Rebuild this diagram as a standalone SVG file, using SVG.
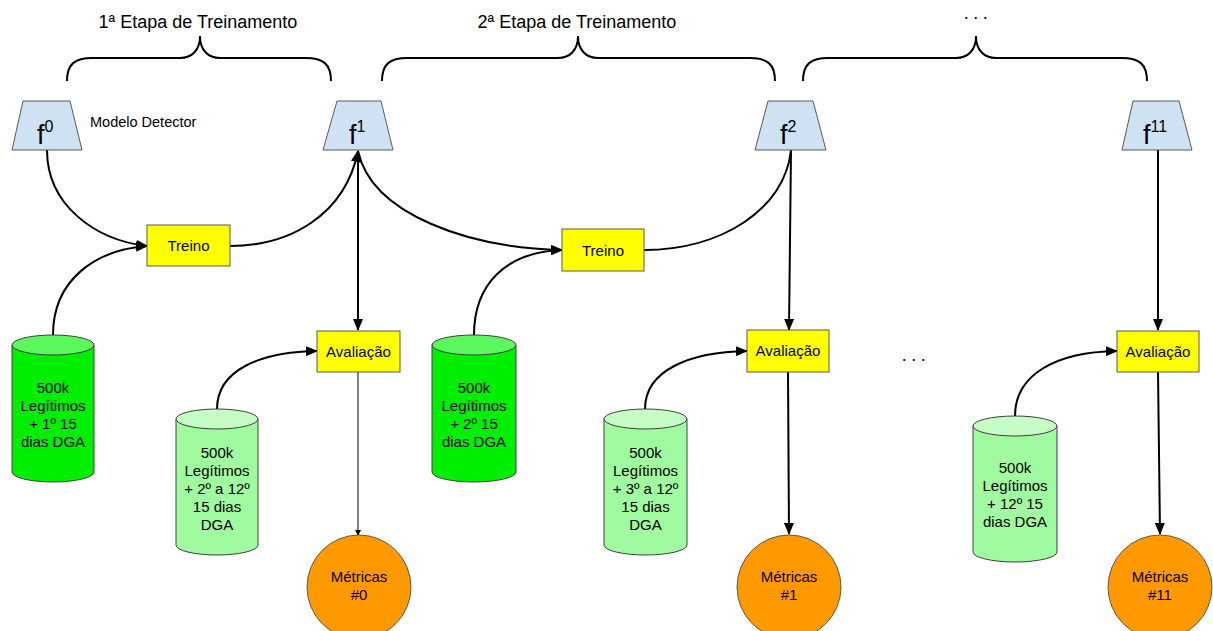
<svg xmlns="http://www.w3.org/2000/svg" width="1213" height="631" viewBox="0 0 1213 631">
  <defs>
    <marker id="arrow" viewBox="0 0 12 10" refX="11" refY="5" markerWidth="12" markerHeight="10" markerUnits="userSpaceOnUse" orient="auto">
      <path d="M0,0 L12,5 L0,10 Z" fill="#000"/>
    </marker>
    <marker id="arrowSmall" viewBox="0 0 6 6" refX="5" refY="3" markerWidth="6" markerHeight="6" markerUnits="userSpaceOnUse" orient="auto">
      <path d="M0,0 L6,3 L0,6 Z" fill="#000"/>
    </marker>
  </defs>
  <style>
    text { font-family: "Liberation Sans", Arial, sans-serif; fill: #000; }
    .title { font-size: 18px; text-anchor: middle; }
    .dots { font-size: 18px; text-anchor: middle; letter-spacing: 4.5px; }
    .lbl { font-size: 15px; text-anchor: middle; }
    .model { fill: #cfe2f3; stroke: #595959; stroke-width: 1; }
    .fsym { font-size: 27px; }
    .fsup { font-size: 16px; }
    .box { fill: #ffff00; stroke: #595959; stroke-width: 1; }
    .dk-body { fill: #00ee00; stroke: #404040; stroke-width: 1; }
    .dk-top { fill: #5cf75c; stroke: #404040; stroke-width: 1; }
    .lt-body { fill: #a0faa0; stroke: #404040; stroke-width: 1; }
    .lt-top { fill: #c6fcc6; stroke: #404040; stroke-width: 1; }
    .metric { fill: #ff9900; stroke: #595959; stroke-width: 1; }
    .brace { fill: none; stroke: #000; stroke-width: 2; }
    .edge { fill: none; stroke: #000; stroke-width: 2; marker-end: url(#arrow); }
    .plain { fill: none; stroke: #000; stroke-width: 2; }
    .thin { fill: none; stroke: #000; stroke-width: 1; marker-end: url(#arrowSmall); }
  </style>

  <!-- stage braces and titles -->
  <g id="stage1">
    <path class="brace" d="M67,81 C67,64 75,58 92,58 L180,58 C192,58 200,50 200,36 C200,50 208,58 220,58 L306,58 C323,58 331,64 331,81"/>
    <text class="title" x="198" y="28">1ª Etapa de Treinamento</text>
  </g>
  <g id="stage2">
    <path class="brace" d="M382,81 C382,64 390,58 407,58 L558,58 C570,58 578,50 578,36 C578,50 586,58 598,58 L750,58 C767,58 775,64 775,81"/>
    <text class="title" x="577" y="28">2ª Etapa de Treinamento</text>
  </g>
  <g id="stage-more">
    <path class="brace" d="M803,81 C803,64 811,58 828,58 L956,58 C968,58 976,50 976,36 C976,50 984,58 996,58 L1122,58 C1139,58 1147,64 1147,81"/>
    <text class="dots" x="978" y="19">...</text>
  </g>

  <!-- connectors -->
  <g id="connectors">
    <path class="edge" d="M47,150 C47,205 95,240 147,246"/>
    <path class="edge" d="M53,335 C53,280 95,250 147,246"/>
    <path class="edge" d="M230,246 C290,246 345,215 358,151"/>
    <path class="edge" d="M358,151 C372,215 470,248 562,250"/>
    <path class="edge" d="M358,151 L358,330"/>
    <path class="edge" d="M217,409 C217,370 260,352 317,351"/>
    <path class="thin" d="M358,372 L358,535"/>
    <path class="edge" d="M474,335 C474,285 505,252 562,250"/>
    <path class="plain" d="M644,250 C720,250 785,210 791,150"/>
    <path class="edge" d="M791,150 L789,330"/>
    <path class="edge" d="M645,409 C645,370 690,352 747,351"/>
    <path class="edge" d="M788,372 L789,534"/>
    <path class="edge" d="M1158,150 L1158,330"/>
    <path class="edge" d="M1015,416 C1015,375 1055,352 1117,351"/>
    <path class="edge" d="M1158,372 L1160,534"/>
  </g>

  <!-- models -->
  <g id="f0">
    <path class="model" d="M23,101 L70,101 L82,150 L12,150 Z"/>
    <text x="37" y="144"><tspan class="fsym">f</tspan><tspan class="fsup" dy="-12">0</tspan></text>
  </g>
  <text id="model-label" x="90" y="127" style="font-size:14.5px">Modelo Detector</text>
  <g id="f1">
    <path class="model" d="M337,101 L381,101 L393,150 L323,150 Z"/>
    <text x="349" y="144"><tspan class="fsym">f</tspan><tspan class="fsup" dy="-12">1</tspan></text>
  </g>
  <g id="f2">
    <path class="model" d="M768,101 L813,101 L826,150 L755,150 Z"/>
    <text x="780" y="144"><tspan class="fsym">f</tspan><tspan class="fsup" dy="-12">2</tspan></text>
  </g>
  <g id="f11">
    <path class="model" d="M1133,101 L1179,101 L1192,150 L1122,150 Z"/>
    <text x="1143" y="144"><tspan class="fsym">f</tspan><tspan class="fsup" dy="-12">11</tspan></text>
  </g>

  <!-- training steps -->
  <g id="treino1">
    <rect class="box" x="147" y="225" width="83" height="41"/>
    <text class="lbl" x="188.5" y="251">Treino</text>
  </g>
  <g id="treino2">
    <rect class="box" x="562" y="229" width="82" height="42"/>
    <text class="lbl" x="603" y="256">Treino</text>
  </g>

  <!-- evaluation steps -->
  <g id="avaliacao1">
    <rect class="box" x="317" y="331" width="83" height="41"/>
    <text class="lbl" x="358.5" y="357">Avaliação</text>
  </g>
  <g id="avaliacao2">
    <rect class="box" x="747" y="330" width="82" height="42"/>
    <text class="lbl" x="788" y="356">Avaliação</text>
  </g>
  <g id="avaliacao11">
    <rect class="box" x="1117" y="331" width="82" height="41"/>
    <text class="lbl" x="1158" y="357">Avaliação</text>
  </g>

  <!-- training datasets -->
  <g id="dados-treino1">
    <path class="dk-body" d="M12,345 L12,472 A41,10 0 0 0 94,472 L94,345 Z"/>
    <ellipse class="dk-top" cx="53" cy="345" rx="41" ry="10"/>
    <text class="lbl" x="53" y="393">500k</text>
    <text class="lbl" x="53" y="411">Legítimos</text>
    <text class="lbl" x="53" y="429">+ 1º 15</text>
    <text class="lbl" x="53" y="447">dias DGA</text>
  </g>
  <g id="dados-treino2">
    <path class="dk-body" d="M432,345 L432,472 A42,10 0 0 0 516,472 L516,345 Z"/>
    <ellipse class="dk-top" cx="474" cy="345" rx="42" ry="10"/>
    <text class="lbl" x="474" y="393">500k</text>
    <text class="lbl" x="474" y="411">Legítimos</text>
    <text class="lbl" x="474" y="429">+ 2º 15</text>
    <text class="lbl" x="474" y="447">dias DGA</text>
  </g>

  <!-- evaluation datasets -->
  <g id="dados-aval1">
    <path class="lt-body" d="M176,419 L176,545 A41,10 0 0 0 258,545 L258,419 Z"/>
    <ellipse class="lt-top" cx="217" cy="419" rx="41" ry="10"/>
    <text class="lbl" x="217" y="458">500k</text>
    <text class="lbl" x="217" y="476">Legítimos</text>
    <text class="lbl" x="217" y="494">+ 2º a 12º</text>
    <text class="lbl" x="217" y="512">15 dias</text>
    <text class="lbl" x="217" y="530">DGA</text>
  </g>
  <g id="dados-aval2">
    <path class="lt-body" d="M604,419 L604,545 A41.5,10 0 0 0 687,545 L687,419 Z"/>
    <ellipse class="lt-top" cx="645.5" cy="419" rx="41.5" ry="10"/>
    <text class="lbl" x="645.5" y="458">500k</text>
    <text class="lbl" x="645.5" y="476">Legítimos</text>
    <text class="lbl" x="645.5" y="494">+ 3º a 12º</text>
    <text class="lbl" x="645.5" y="512">15 dias</text>
    <text class="lbl" x="645.5" y="530">DGA</text>
  </g>
  <g id="dados-aval11">
    <path class="lt-body" d="M973,426 L973,552 A42,10 0 0 0 1057,552 L1057,426 Z"/>
    <ellipse class="lt-top" cx="1015" cy="426" rx="42" ry="10"/>
    <text class="lbl" x="1015" y="473">500k</text>
    <text class="lbl" x="1015" y="491">Legítimos</text>
    <text class="lbl" x="1015" y="509">+ 12º 15</text>
    <text class="lbl" x="1015" y="527">dias DGA</text>
  </g>

  <text id="reticencias" class="dots" x="916" y="361">...</text>

  <!-- metrics -->
  <g id="metricas0">
    <circle class="metric" cx="359" cy="587" r="52"/>
    <text class="lbl" x="359" y="582">Métricas</text>
    <text class="lbl" x="359" y="600">#0</text>
  </g>
  <g id="metricas1">
    <circle class="metric" cx="789" cy="587" r="52"/>
    <text class="lbl" x="789" y="582">Métricas</text>
    <text class="lbl" x="789" y="600">#1</text>
  </g>
  <g id="metricas11">
    <circle class="metric" cx="1160" cy="587" r="52"/>
    <text class="lbl" x="1160" y="582">Métricas</text>
    <text class="lbl" x="1160" y="600">#11</text>
  </g>
</svg>
